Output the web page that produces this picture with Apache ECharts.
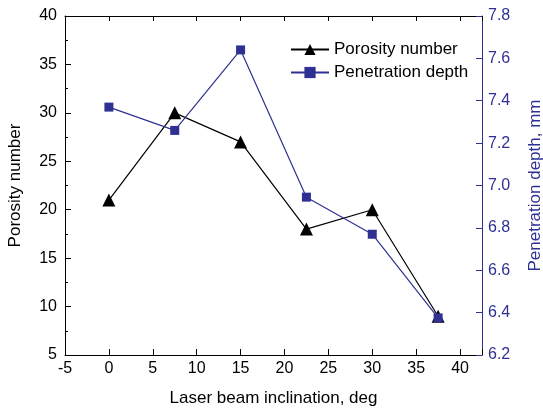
<!DOCTYPE html>
<html>
<head>
<meta charset="utf-8">
<script src="https://cdn.jsdelivr.net/npm/echarts@6/dist/echarts.min.js"></script>
<style>
  html, body { margin: 0; padding: 0; background: #fff; }
  #chart { width: 543px; height: 410px; }
</style>
</head>
<body>
<div id="chart"></div>
<script>
const inclination = [0, 7.5, 15, 22.5, 30, 37.5];
const porosity = [21, 30, 27, 18, 20, 9];
const depth = [7.37, 7.26, 7.64, 6.945, 6.77, 6.375];

const blue = "#2e3192";
const font = "Liberation Sans, Arial, sans-serif";

const pairs = (xs, ys) => xs.map((x, i) => [x, ys[i]]);

const chart = echarts.init(document.getElementById("chart"));
chart.setOption({
  animation: false,
  grid: { left: 65, right: 61, top: 16, bottom: 55, outerBoundsMode: "none", containLabel: false },
  legend: {
    orient: "vertical",
    left: 285,
    top: 36,
    itemWidth: 38,
    itemHeight: 14,
    itemGap: 6,
    textStyle: { fontFamily: font, fontSize: 17, color: "#000" },
    data: ["Porosity number", "Penetration depth"]
  },
  xAxis: [
    {
      type: "value",
      min: -5,
      max: 42.5,
      interval: 5,
      name: "Laser beam inclination, deg",
      nameLocation: "middle",
      nameGap: 35,
      nameTextStyle: { fontFamily: font, fontSize: 17, color: "#000" },
      axisLine: { onZero: false, lineStyle: { color: "#000" } },
      axisTick: { inside: true, length: 6, lineStyle: { color: "#000" } },
      axisLabel: {
        fontFamily: font, fontSize: 16, color: "#000", margin: 6,
        formatter: (v) => (v > 40 ? "" : String(v))
      },
      splitLine: { show: false }
    },
    {
      type: "value",
      position: "top",
      min: -5,
      max: 42.5,
      interval: 5,
      axisLine: { onZero: false, lineStyle: { color: "#000" } },
      axisTick: { inside: true, length: 5, lineStyle: { color: "#000" } },
      axisLabel: { show: false },
      splitLine: { show: false }
    }
  ],
  yAxis: [
    {
      type: "value",
      min: 5,
      max: 40,
      interval: 5,
      name: "Porosity number",
      nameLocation: "middle",
      nameGap: 41,
      nameTextStyle: { fontFamily: font, fontSize: 17, color: "#000" },
      axisLine: { show: true, onZero: false, lineStyle: { color: "#000" } },
      axisTick: { show: true, inside: true, length: 6, lineStyle: { color: "#000" } },
      minorTick: { show: true, splitNumber: 2, length: 3, lineStyle: { color: "#000" } },
      axisLabel: { fontFamily: font, fontSize: 16, color: "#000", margin: 8 },
      splitLine: { show: false }
    },
    {
      type: "value",
      min: 6.2,
      max: 7.8,
      interval: 0.2,
      position: "right",
      name: "Penetration depth, mm",
      nameLocation: "middle",
      nameGap: 45,
      nameTextStyle: { fontFamily: font, fontSize: 17, color: blue },
      axisLine: { show: true, onZero: false, lineStyle: { color: blue } },
      axisTick: { show: true, inside: true, length: 6, lineStyle: { color: blue } },
      axisLabel: {
        fontFamily: font, fontSize: 16, color: blue, margin: 6,
        formatter: (v) => v.toFixed(1)
      },
      splitLine: { show: false }
    }
  ],
  series: [
    {
      name: "Porosity number",
      type: "line",
      yAxisIndex: 0,
      data: pairs(inclination, porosity),
      symbol: "triangle",
      symbolSize: 13,
      itemStyle: { color: "#000" },
      lineStyle: { color: "#000", width: 1.2 },
      z: 3
    },
    {
      name: "Penetration depth",
      type: "line",
      yAxisIndex: 1,
      data: pairs(inclination, depth),
      symbol: "rect",
      symbolSize: 9,
      itemStyle: { color: blue },
      lineStyle: { color: blue, width: 1.2 },
      z: 4
    }
  ]
});
</script>
</body>
</html>
